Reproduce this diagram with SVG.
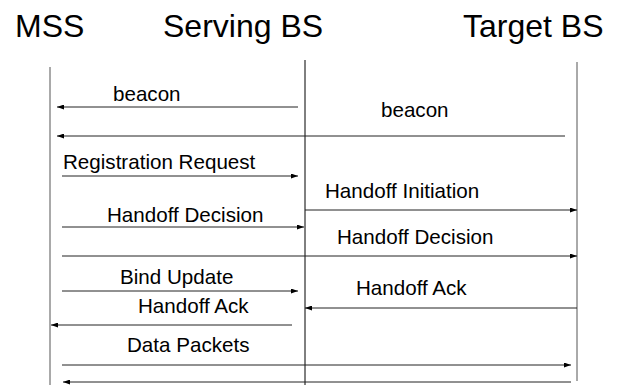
<svg xmlns="http://www.w3.org/2000/svg" width="623" height="385" viewBox="0 0 623 385">
  <style>
    .head { font-family: "Liberation Sans", Arial, sans-serif; font-size: 32px; fill: #000; }
    .lbl { font-family: "Liberation Sans", Arial, sans-serif; font-size: 20.6px; fill: #000; }
    .life { stroke-width: 1; fill: none; }
    .msg { stroke: #222; stroke-width: 1; fill: none; }
    .arr { marker-end: url(#tip); }
  </style>
  <defs>
    <marker id="tip" viewBox="0 0 7 5" refX="7" refY="2.5" markerWidth="7" markerHeight="5" markerUnits="userSpaceOnUse" orient="auto">
      <path d="M0,0 L7,2.5 L0,5 Z" fill="#000"/>
    </marker>
  </defs>

  <rect width="623" height="385" fill="#fff"/>

  <!-- participants -->
  <g id="mss">
    <text class="head" x="15" y="37">MSS</text>
    <line class="life" x1="50" y1="67" x2="50" y2="385" stroke="#555"/>
  </g>
  <g id="serving-bs">
    <text class="head" x="163" y="37">Serving BS</text>
    <line class="life" x1="305" y1="60" x2="305" y2="385" stroke="#000"/>
  </g>
  <g id="target-bs">
    <text class="head" x="463" y="37">Target BS</text>
    <line class="life" x1="577" y1="62" x2="577" y2="381" stroke="#555"/>
  </g>

  <!-- messages -->
  <g id="connectors">
    <line class="msg arr" x1="298" y1="107" x2="57" y2="107"/>
    <text class="lbl" x="113" y="101">beacon</text>

    <line class="msg arr" x1="565" y1="136" x2="57" y2="136"/>
    <text class="lbl" x="381" y="117">beacon</text>

    <line class="msg arr" x1="62" y1="176" x2="298" y2="176"/>
    <text class="lbl" x="63" y="169">Registration Request</text>

    <line class="msg arr" x1="305" y1="210" x2="577" y2="210"/>
    <text class="lbl" x="325" y="198">Handoff Initiation</text>

    <line class="msg arr" x1="62" y1="227" x2="304" y2="227"/>
    <text class="lbl" x="107" y="222">Handoff Decision</text>

    <line class="msg arr" x1="62" y1="256" x2="577" y2="256"/>
    <text class="lbl" x="337" y="244">Handoff Decision</text>

    <line class="msg arr" x1="62" y1="291" x2="298" y2="291"/>
    <text class="lbl" x="120" y="284">Bind Update</text>

    <line class="msg arr" x1="577" y1="308" x2="305" y2="308"/>
    <text class="lbl" x="356" y="295">Handoff Ack</text>

    <line class="msg arr" x1="292" y1="325" x2="51" y2="325"/>
    <text class="lbl" x="138" y="313">Handoff Ack</text>

    <line class="msg arr" x1="62" y1="365" x2="571" y2="365"/>
    <text class="lbl" x="127" y="352">Data Packets</text>

    <line class="msg arr" x1="571" y1="382" x2="63" y2="382"/>
  </g>
</svg>
